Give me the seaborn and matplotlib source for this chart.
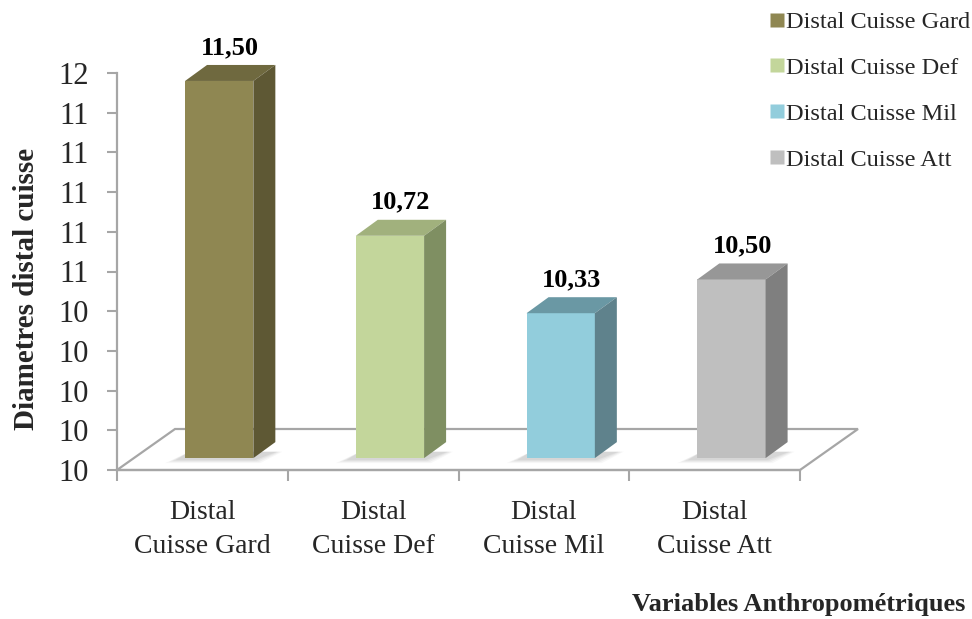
import numpy as np
import pandas as pd
import matplotlib
matplotlib.use("Agg")
import matplotlib.pyplot as plt
import seaborn as sns
from matplotlib.patches import Polygon
from matplotlib.lines import Line2D

# ---- data -------------------------------------------------------------
categories = ["Distal Cuisse Gard", "Distal Cuisse Def", "Distal Cuisse Mil", "Distal Cuisse Att"]
tick_labels = ["Distal\nCuisse Gard", "Distal\nCuisse Def", "Distal\nCuisse Mil", "Distal\nCuisse Att"]
values = [11.50, 10.72, 10.33, 10.50]

front_colors = ["#8F8752", "#C3D69B", "#92CDDC", "#BFBFBF"]
top_colors = ["#6F693F", "#A1B17D", "#6A98A4", "#979797"]
side_colors = ["#5E5834", "#7F8F62", "#5F828C", "#7F7F7F"]

Y_MIN, Y_MAX, N_TICKS = 9.6, 11.6, 11
GRAY = "#A6A6A6"

sns.set_theme(style="white")
plt.rcParams["font.family"] = ["Liberation Serif", "DejaVu Serif"]

fig = plt.figure(figsize=(9.72, 6.19), dpi=100)
ax = fig.add_axes([117 / 972, 1 - 470 / 619, 683 / 972, 397 / 619])

df = pd.DataFrame({"cat": categories, "val": values})
sns.barplot(data=df, x="cat", y="val", hue="cat", palette=front_colors,
            width=0.4, saturation=1, legend=False, ax=ax, zorder=3)

ax.set_xlim(-0.5, 3.5)
ax.set_ylim(Y_MIN, Y_MAX)

# pixel -> data conversions for the oblique (3-D) depth
px_x = ax.bbox.width / 4.0
px_y = ax.bbox.height / (Y_MAX - Y_MIN)
floor_dx, floor_dy = 58 / px_x, 41 / px_y          # full floor depth
front_dx, front_dy = 0.29 * floor_dx, 0.29 * floor_dy  # bar front plane
bar_dx, bar_dy = 22 / px_x, 16 / px_y              # bar depth

# floor of the 3-D plot area
floor = Polygon([(-0.5, Y_MIN), (3.5, Y_MIN),
                 (3.5 + floor_dx, Y_MIN + floor_dy), (-0.5 + floor_dx, Y_MIN + floor_dy)],
                closed=True, facecolor="white", edgecolor=GRAY, lw=1.6,
                zorder=1, clip_on=False)
ax.add_patch(floor)

bars = [p for p in ax.patches if p is not floor]
for i, p in enumerate(bars):
    v = p.get_height()
    x0, w = p.get_x(), p.get_width()
    # move front face into the depth plane, starting on the floor
    p.set_x(x0 + front_dx)
    p.set_y(Y_MIN + front_dy)
    p.set_height(v - Y_MIN)
    p.set_clip_on(False)
    p.set_edgecolor("none")
    xl, xr = x0 + front_dx, x0 + w + front_dx
    yb, yt = Y_MIN + front_dy, v + front_dy

    # soft shadow on the floor, falling to the lower left
    for k, a in enumerate([0.04, 0.05, 0.06, 0.07]):
        gx = (4 - k) * 3.5 / px_x
        gy = (4 - k) * 1.0 / px_y
        shadow = Polygon([(xl - gx - 6 / px_x, yb - gy - 1 / px_y),
                          (xr + gx * 0.5, yb - gy - 1 / px_y),
                          (xr + bar_dx + gx * 0.5, yb + bar_dy * 0.4),
                          (xl + bar_dx * 0.2, yb + bar_dy * 0.4)],
                         closed=True, facecolor="#404040", edgecolor="none",
                         alpha=a, zorder=2, clip_on=False)
        ax.add_patch(shadow)

    top = Polygon([(xl, yt), (xr, yt), (xr + bar_dx, yt + bar_dy), (xl + bar_dx, yt + bar_dy)],
                  closed=True, facecolor=top_colors[i], edgecolor="none",
                  zorder=3, clip_on=False)
    side = Polygon([(xr, yb), (xr + bar_dx, yb + bar_dy), (xr + bar_dx, yt + bar_dy), (xr, yt)],
                   closed=True, facecolor=side_colors[i], edgecolor="none",
                   zorder=3, clip_on=False)
    ax.add_patch(top)
    ax.add_patch(side)

    ax.text((xl + xr) / 2 + bar_dx / 2, yt + bar_dy + 11 / px_y,
            f"{v:.2f}".replace(".", ","), ha="center", va="baseline",
            fontsize=19, fontweight="bold", color="black", zorder=5)

# axes styling
for s in ["top", "right"]:
    ax.spines[s].set_visible(False)
for s in ["left", "bottom"]:
    ax.spines[s].set_color(GRAY)
    ax.spines[s].set_linewidth(1.6)
    ax.spines[s].set_zorder(1.5)

yt_vals = np.linspace(Y_MIN, Y_MAX, N_TICKS)
ax.set_yticks(yt_vals)
ax.set_yticklabels([f"{t:.0f}" for t in yt_vals])
ax.set_xticks(range(len(categories)))
ax.set_xticklabels(tick_labels)
ax.set_xticks(np.arange(-0.5, 4.0, 1.0), minor=True)

ax.tick_params(axis="y", which="major", direction="out", length=7, width=1.5,
               color=GRAY, labelsize=22, pad=13, left=True)
ax.tick_params(axis="x", which="major", length=0, labelsize=20, pad=21.5)
ax.tick_params(axis="x", which="minor", direction="out", length=8, width=1.5,
               color=GRAY, bottom=True)
for lbl in ax.get_xticklabels():
    lbl.set_linespacing(1.5)

ax.set_xlabel("")
ax.set_ylabel("")
ax.patch.set_alpha(0)

fig.text(27 / 972, 1 - 289 / 619, "Diametres distal cuisse", rotation=90,
         ha="center", va="center", fontsize=21, fontweight="bold")
fig.text(965 / 972, 1 - 605 / 619, "Variables Anthropométriques",
         ha="right", va="center", fontsize=19, fontweight="bold")

handles = [Line2D([], [], marker="s", ls="", markersize=10, markerfacecolor=c,
                  markeredgecolor="none") for c in front_colors]
fig.legend(handles, categories, loc="upper left",
           bbox_to_anchor=(768 / 972, 1 - 11 / 619), frameon=False,
           fontsize=17.5, handletextpad=0.05, handlelength=0.7,
           labelspacing=0.98, borderaxespad=0, borderpad=0)

fig.savefig("out.png", dpi=100)
